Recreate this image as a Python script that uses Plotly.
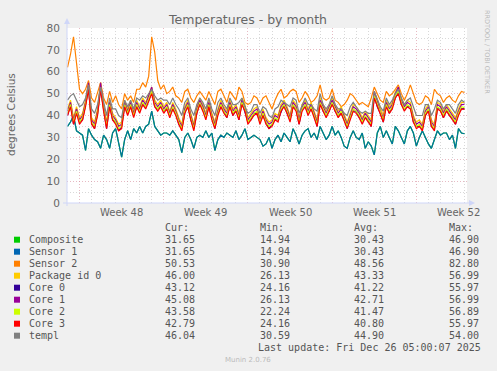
import plotly.graph_objects as go
import pandas as pd

# ---------------- data (6-hour samples) ----------------
times = pd.date_range("2025-11-23 00:00", periods=133, freq="6h")

composite = [35, 37, 40, 33, 32, 31, 24, 34, 31, 29,
             28, 25, 31, 29, 25, 32, 34, 27, 21, 29,
             33, 29, 34, 32, 35, 32, 35, 36, 42, 35,
             33, 31, 32, 32, 31, 33, 31, 29, 23, 30,
             32, 29, 25, 30, 31, 30, 33, 30, 32, 24,
             29, 31, 30, 32, 31, 30, 33, 29, 31, 34,
             29, 30, 31, 30, 29, 26, 27, 30, 25, 29,
             31, 28, 32, 30, 28, 34, 31, 27, 31, 33,
             34, 30, 32, 29, 35, 32, 29, 31, 35, 31,
             33, 30, 26, 25, 30, 33, 30, 29, 32, 25,
             28, 26, 22, 32, 35, 30, 33, 30, 27, 35,
             33, 30, 27, 33, 35, 32, 26, 30, 33, 30,
             27, 25, 29, 33, 31, 32, 32, 29, 31, 25,
             34, 32, 31.65]

sensor1 = [35, 37, 40, 33, 32, 31, 24, 34, 31, 29,
           28, 25, 31, 29, 25, 32, 34, 27, 21, 29,
           33, 29, 34, 32, 35, 32, 35, 36, 42, 35,
           33, 31, 32, 32, 31, 33, 31, 29, 23, 30,
           32, 29, 25, 30, 31, 30, 33, 30, 32, 24,
           29, 31, 30, 32, 31, 30, 33, 29, 31, 34,
           29, 30, 31, 30, 29, 26, 27, 30, 25, 29,
           31, 28, 32, 30, 28, 34, 31, 27, 31, 33,
           34, 30, 32, 29, 35, 32, 29, 31, 35, 31,
           33, 30, 26, 25, 30, 33, 30, 29, 32, 25,
           28, 26, 22, 32, 35, 30, 33, 30, 27, 35,
           33, 30, 27, 33, 35, 32, 26, 30, 33, 30,
           27, 25, 29, 33, 31, 32, 32, 29, 31, 25,
           34, 32, 31.65]

sensor2 = [62, 68, 76, 64, 52, 50, 52, 56, 48, 46,
           50, 55, 48, 45, 51, 46, 49, 45, 43, 50,
           47, 49, 46, 52, 52, 55, 53, 58, 76, 69,
           56, 52, 54, 50, 51, 53, 49, 48, 46, 51,
           52, 48, 46, 49, 51, 49, 47, 51, 48, 45,
           51, 52, 49, 46, 51, 49, 47, 53, 51, 46,
           45, 46, 49, 48, 45, 48, 49, 46, 43, 47,
           50, 52, 48, 49, 51, 52, 51, 46, 48, 51,
           49, 46, 47, 49, 54, 48, 47, 48, 52, 47,
           46, 44, 45, 47, 50, 49, 47, 45, 46, 45,
           44, 48, 53, 50, 47, 46, 51, 49, 50, 52,
           54, 50, 47, 50, 54, 50, 46, 45, 46, 49,
           48, 45, 52, 50, 49, 46, 48, 49, 47, 46,
           49, 51, 50.53]

package0 = [43, 47, 39, 44, 39, 41, 47, 55, 39, 37,
            43, 55, 45, 37, 47, 41, 39, 36, 37, 47,
            43, 47, 42, 47, 44, 48, 46, 50, 53, 47,
            45, 47, 44, 46, 42, 46, 43, 39, 36, 44,
            47, 41, 36, 44, 48, 45, 41, 47, 41, 37,
            43, 47, 44, 42, 47, 43, 45, 41, 48, 45,
            39, 41, 43, 44, 39, 43, 39, 37, 38, 41,
            40, 45, 47, 44, 40, 47, 45, 39, 45, 47,
            43, 46, 42, 38, 48, 45, 42, 45, 48, 45,
            42, 44, 40, 37, 41, 45, 44, 42, 39, 42,
            40, 38, 51, 47, 43, 40, 47, 44, 46, 51,
            53, 48, 45, 47, 46, 40, 37, 38, 36, 43,
            45, 38, 36, 46, 45, 42, 45, 43, 41, 39,
            43, 46, 46.00]

core0 = [40, 45, 36, 42, 37, 38, 45, 52, 37, 34,
         41, 52, 43, 34, 45, 38, 37, 33, 35, 44,
         41, 44, 40, 44, 42, 45, 44, 47, 51, 44,
         43, 44, 42, 43, 40, 43, 41, 36, 34, 41,
         45, 38, 34, 41, 46, 42, 39, 44, 39, 34,
         41, 44, 42, 39, 45, 40, 43, 38, 46, 42,
         37, 38, 41, 41, 37, 40, 37, 34, 36, 38,
         38, 42, 45, 41, 38, 44, 43, 36, 43, 44,
         41, 43, 40, 35, 46, 42, 40, 42, 46, 42,
         40, 41, 38, 34, 39, 42, 42, 39, 37, 39,
         38, 35, 49, 44, 41, 37, 45, 41, 44, 48,
         51, 45, 43, 44, 44, 37, 35, 35, 34, 40,
         43, 35, 34, 43, 43, 39, 43, 40, 39, 36,
         41, 43, 43.12]

core1 = [42, 46, 38, 43, 38, 40, 46, 55, 38, 36,
         42, 55, 44, 36, 46, 40, 38, 35, 36, 46,
         42, 46, 41, 46, 43, 47, 45, 49, 53, 46,
         44, 46, 43, 45, 41, 45, 42, 38, 35, 43,
         46, 40, 35, 43, 47, 44, 40, 46, 40, 36,
         42, 46, 43, 41, 46, 42, 44, 40, 47, 44,
         38, 40, 42, 43, 38, 42, 38, 36, 37, 40,
         39, 44, 46, 43, 39, 46, 44, 38, 44, 46,
         42, 45, 41, 37, 47, 44, 41, 44, 47, 44,
         41, 43, 39, 36, 40, 44, 43, 41, 38, 41,
         39, 37, 51, 46, 42, 39, 46, 43, 45, 50,
         53, 47, 44, 46, 45, 39, 36, 37, 35, 42,
         44, 37, 35, 45, 44, 41, 44, 42, 40, 38,
         42, 45, 45.08]

core2 = [41, 45, 37, 42, 37, 39, 45, 53, 37, 35,
         41, 53, 43, 35, 45, 39, 37, 34, 35, 45,
         41, 45, 40, 45, 42, 46, 44, 48, 51, 45,
         43, 45, 42, 44, 40, 44, 41, 37, 34, 42,
         45, 39, 34, 42, 46, 43, 39, 45, 39, 35,
         41, 45, 42, 40, 45, 41, 43, 39, 46, 43,
         37, 39, 41, 42, 37, 41, 37, 35, 36, 39,
         38, 43, 45, 42, 38, 45, 43, 37, 43, 45,
         41, 44, 40, 36, 46, 43, 40, 43, 46, 43,
         40, 42, 38, 35, 39, 43, 42, 40, 37, 40,
         38, 36, 49, 45, 41, 38, 45, 42, 44, 49,
         51, 46, 43, 45, 44, 38, 35, 36, 34, 41,
         43, 36, 34, 44, 43, 40, 43, 41, 39, 37,
         41, 44, 43.58]

core3 = [40, 44, 36, 41, 36, 38, 44, 52, 36, 34,
         40, 52, 42, 34, 44, 38, 36, 33, 34, 44,
         40, 44, 39, 44, 41, 45, 43, 47, 50, 44,
         42, 44, 41, 43, 39, 43, 40, 36, 33, 41,
         44, 38, 33, 41, 45, 42, 38, 44, 38, 34,
         40, 44, 41, 39, 44, 40, 42, 38, 45, 42,
         36, 38, 40, 41, 36, 40, 36, 34, 35, 38,
         37, 42, 44, 41, 37, 44, 42, 36, 42, 44,
         40, 43, 39, 35, 45, 42, 39, 42, 45, 42,
         39, 41, 37, 34, 38, 42, 41, 39, 36, 39,
         37, 35, 48, 44, 40, 37, 44, 41, 43, 48,
         50, 45, 42, 44, 43, 37, 34, 35, 33, 40,
         42, 35, 33, 43, 42, 39, 42, 40, 38, 36,
         40, 43, 42.79]

templ = [47, 49, 50, 47, 44, 45, 48, 54, 43, 41,
         45, 53, 46, 40, 48, 43, 43, 40, 39, 47,
         44, 47, 43, 48, 47, 49, 48, 50, 52, 49,
         47, 48, 47, 47, 45, 48, 45, 43, 40, 46,
         48, 43, 40, 45, 48, 46, 43, 48, 43, 40,
         46, 48, 45, 43, 48, 45, 45, 46, 48, 44,
         41, 42, 45, 45, 41, 44, 43, 40, 39, 43,
         44, 47, 46, 45, 44, 48, 47, 41, 45, 48,
         45, 45, 43, 42, 50, 45, 43, 45, 49, 45,
         43, 43, 41, 40, 44, 46, 44, 42, 41, 42,
         41, 41, 51, 47, 44, 42, 48, 45, 47, 50,
         52, 48, 45, 47, 48, 44, 40, 40, 40, 45,
         45, 40, 43, 47, 46, 43, 45, 45, 43, 41,
         45, 47, 46.04]

series_names = ["Composite", "Sensor 1", "Sensor 2", "Package id 0",
                "Core 0", "Core 1", "Core 2", "Core 3", "templ"]
series_colors = ["#00CC00", "#0066B3", "#FF8000", "#FFCC00",
                 "#330099", "#990099", "#CCFF00", "#FF0000", "#808080"]
series_values = [composite, sensor1, sensor2, package0,
                 core0, core1, core2, core3, templ]

cur_vals = ["31.65", "31.65", "50.53", "46.00", "43.12", "45.08", "43.58", "42.79", "46.04"]
min_vals = ["14.94", "14.94", "30.90", "26.13", "24.16", "26.13", "22.24", "24.16", "30.59"]
avg_vals = ["30.43", "30.43", "48.56", "43.33", "41.22", "42.71", "41.47", "40.80", "44.90"]
max_vals = ["46.90", "46.90", "82.80", "56.99", "55.97", "56.99", "56.89", "55.97", "54.00"]

week_labels = ["Week 48", "Week 49", "Week 50", "Week 51", "Week 52"]
week_starts = ["2025-11-24", "2025-12-01", "2025-12-08", "2025-12-15", "2025-12-22"]
y_ticks = [0, 10, 20, 30, 40, 50, 60, 70, 80]
y_minor = [5, 15, 25, 35, 45, 55, 65, 75]

x_start, x_end = "2025-11-22 23:00", "2025-12-26 05:00"
day_lines = [d.strftime("%Y-%m-%d") for d in pd.date_range("2025-11-23", "2025-12-26", freq="D")
             if d.strftime("%Y-%m-%d") not in week_starts]

# ---------------- figure ----------------
W, H = 497, 371
L, R, T, B = 67, 30, 28, 168
PW, PH = W - L - R, H - T - B


def px(x):
    return (x - L) / PW


def py(y):
    return (H - B - y) / PH


FONT = "DejaVu Sans"
MONO = "DejaVu Sans Mono"
TXT = "#666666"
LEG = "#555555"
AXIS = "#CFD6F8"
MGRID = "rgba(215,140,155,0.6)"
GRID = "rgba(190,190,190,0.6)"
DASH = "1px,2px"

fig = go.Figure()
for name, col, vals in zip(series_names, series_colors, series_values):
    fig.add_trace(go.Scatter(
        x=times, y=vals, mode="lines", name=name,
        line=dict(color=col, width=1.2),
        opacity=0.9 if name == "Sensor 1" else 1.0,
        showlegend=False, hoverinfo="skip"))

fig.update_layout(
    width=W, height=H,
    margin=dict(l=L, r=R, t=T, b=B, pad=0, autoexpand=False),
    paper_bgcolor="#F0F0F0", plot_bgcolor="#FFFFFF",
    font=dict(family=FONT, color=TXT, size=10),
    xaxis=dict(
        type="date", range=[x_start, x_end],
        tickmode="array", tickvals=week_starts, showticklabels=False, ticks="",
        showgrid=True, gridcolor=MGRID, griddash=DASH, gridwidth=1,
        minor=dict(tickmode="array", tickvals=day_lines, showgrid=True,
                   gridcolor=GRID, griddash=DASH, gridwidth=1),
        showline=False, zeroline=False, fixedrange=True, automargin=False),
    yaxis=dict(
        range=[0, 80], tickmode="array", tickvals=y_ticks,
        ticks="outside", ticklen=4, tickcolor="rgba(0,0,0,0)",
        tickfont=dict(family=FONT, size=10.5, color=TXT),
        showgrid=True, gridcolor=MGRID, griddash=DASH, gridwidth=1,
        minor=dict(tickmode="array", tickvals=y_minor, showgrid=True,
                   gridcolor=GRID, griddash=DASH, gridwidth=1),
        showline=False, zeroline=False, fixedrange=True, automargin=False),
)

ann = []
ann.append(dict(x=px(247.5), y=py(19), xref="paper", yref="paper", text="Temperatures - by month",
                showarrow=False, xanchor="center", yanchor="middle",
                font=dict(family=FONT, size=12.5, color=TXT)))
ann.append(dict(x=px(11), y=py(114), xref="paper", yref="paper", text="degrees Celsius",
                showarrow=False, textangle=-90, xanchor="center", yanchor="middle",
                font=dict(family=FONT, size=10.5, color=TXT)))
ann.append(dict(x=px(487), y=py(52), xref="paper", yref="paper", text="RRDTOOL / TOBI OETIKER",
                showarrow=False, textangle=90, xanchor="center", yanchor="middle",
                font=dict(family=FONT, size=6.5, color="#BBBBBB")))
for lab, ws in zip(week_labels, week_starts):
    mid = pd.Timestamp(ws) + pd.Timedelta(hours=84)
    ann.append(dict(x=mid, y=py(212.5), xref="x", yref="paper", text=lab,
                    showarrow=False, xanchor="center", yanchor="middle",
                    font=dict(family=FONT, size=10, color=TXT)))

col_x = [163, 258, 352, 447]
headers = ["Cur:", "Min:", "Avg:", "Max:"]
for cx, h in zip(col_x, headers):
    ann.append(dict(x=px(cx), y=py(227.7), xref="paper", yref="paper", text=h,
                    showarrow=False, xanchor="left", yanchor="middle",
                    font=dict(family=MONO, size=10, color=LEG)))
shapes = []
for k, name in enumerate(series_names):
    ry = 239.7 + 12 * k
    shapes.append(dict(type="rect", xref="paper", yref="paper",
                       x0=px(14), x1=px(20), y0=py(ry + 3), y1=py(ry - 3),
                       fillcolor=series_colors[k], line=dict(width=0)))
    ann.append(dict(x=px(26.5), y=py(ry), xref="paper", yref="paper", text=name,
                    showarrow=False, xanchor="left", yanchor="middle",
                    font=dict(family=MONO, size=10, color=LEG)))
    for cx, v in zip(col_x, [cur_vals[k], min_vals[k], avg_vals[k], max_vals[k]]):
        ann.append(dict(x=px(cx), y=py(ry), xref="paper", yref="paper", text=v,
                        showarrow=False, xanchor="left", yanchor="middle",
                        font=dict(family=MONO, size=10, color=LEG)))
ann.append(dict(x=px(483), y=py(347.3), xref="paper", yref="paper",
                text="Last update: Fri Dec 26 05:00:07 2025",
                showarrow=False, xanchor="right", yanchor="middle",
                font=dict(family=MONO, size=10, color=LEG)))
ann.append(dict(x=px(248), y=py(360), xref="paper", yref="paper", text="Munin 2.0.76",
                showarrow=False, xanchor="center", yanchor="middle",
                font=dict(family=FONT, size=7, color="#BBBBBB")))

# axis lines and arrows
shapes.append(dict(type="line", xref="paper", yref="paper", x0=px(67), x1=px(67),
                   y0=py(206), y1=py(22), line=dict(color=AXIS, width=1)))
shapes.append(dict(type="path", xref="paper", yref="paper",
                   path=f"M {px(64)} {py(24)} L {px(70)} {py(24)} L {px(67)} {py(18)} Z",
                   fillcolor=AXIS, line=dict(width=0)))
shapes.append(dict(type="line", xref="paper", yref="paper", x0=px(63), x1=px(470),
                   y0=py(203), y1=py(203), line=dict(color=AXIS, width=1)))
shapes.append(dict(type="path", xref="paper", yref="paper",
                   path=f"M {px(469)} {py(200)} L {px(469)} {py(206)} L {px(475)} {py(203)} Z",
                   fillcolor=AXIS, line=dict(width=0)))

fig.update_layout(annotations=ann, shapes=shapes)
fig.write_html("out.html",
               config={"displayModeBar": False, "staticPlot": True},
               post_script="document.body.style.margin='0';document.body.style.background='#F0F0F0';")
